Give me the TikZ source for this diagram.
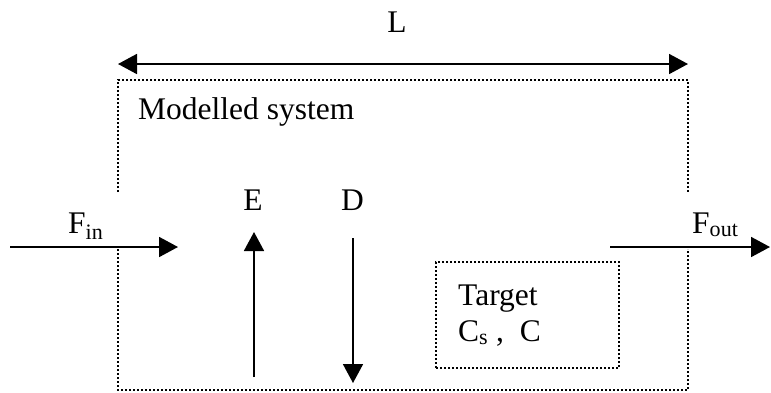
\documentclass[tikz,border=0pt]{standalone}
\usepackage{fontspec}
\setmainfont{Liberation Serif}
\usetikzlibrary{arrows.meta}
\begin{document}
\begin{tikzpicture}[x=1pt,y=-1pt,
  conn/.style={line width=1.8pt,-{Triangle[length=19pt,width=20pt]}},
  dotline/.style={line width=2.4pt,dash pattern=on 2pt off 2pt},
  lbl/.style={inner sep=0pt,font=\fontsize{31.5}{36}\selectfont},
]
\useasboundingbox (0,0) rectangle (771,392);
% length arrow
\coordinate (Lw) at (118,64);
\coordinate (Le) at (688,64);
\draw[line width=1.8pt,{Triangle[length=19pt,width=20pt]}-{Triangle[length=19pt,width=20pt]}] (Lw) -- (Le);
\node[lbl,anchor=base] (L) at (397,32) {L};
% modelled system box (with gaps for the flows)
\coordinate (ltop) at (118,192);
\coordinate (tl) at (118,80);
\coordinate (tr) at (688,80);
\coordinate (rtop) at (688,192);
\coordinate (lbot) at (118,249);
\coordinate (bl) at (118,390);
\coordinate (br) at (688,390);
\coordinate (rbot) at (688,249);
\draw[dotline] (ltop) -- (tl) -- (tr) -- (rtop);
\draw[dotline] (lbot) -- (bl) -- (br) -- (rbot);
\node[lbl,anchor=base west] (ms) at (138,119) {Modelled system};
% inflow
\coordinate (finS) at (10,247);
\coordinate (finE) at (178,247);
\draw[conn] (finS) -- (finE);
\node[lbl,anchor=base west] (fin) at (68,233) {F\textsubscript{in}};
% E
\coordinate (eS) at (254,377);
\coordinate (eE) at (254,232);
\draw[conn] (eS) -- (eE);
\node[lbl,anchor=base] (E) at (253,210) {E};
% D
\coordinate (dS) at (353,238);
\coordinate (dE) at (353,383);
\draw[conn] (dS) -- (dE);
\node[lbl,anchor=base] (D) at (352.5,210) {D};
% outflow
\coordinate (foS) at (610,247);
\coordinate (foE) at (770,247);
\draw[conn] (foS) -- (foE);
\node[lbl,anchor=base west] (fout) at (692,233) {F\textsubscript{out}};
% target
\node[draw,dotline,minimum width=183pt,minimum height=106pt,inner sep=0pt] (target) at (527.5,315) {};
\node[lbl,anchor=base west] (tgt) at (458,305) {Target};
\node[lbl,anchor=base west] (cs) at (458,341) {C\textsubscript{s} ,\ \ C};
\end{tikzpicture}
\end{document}
